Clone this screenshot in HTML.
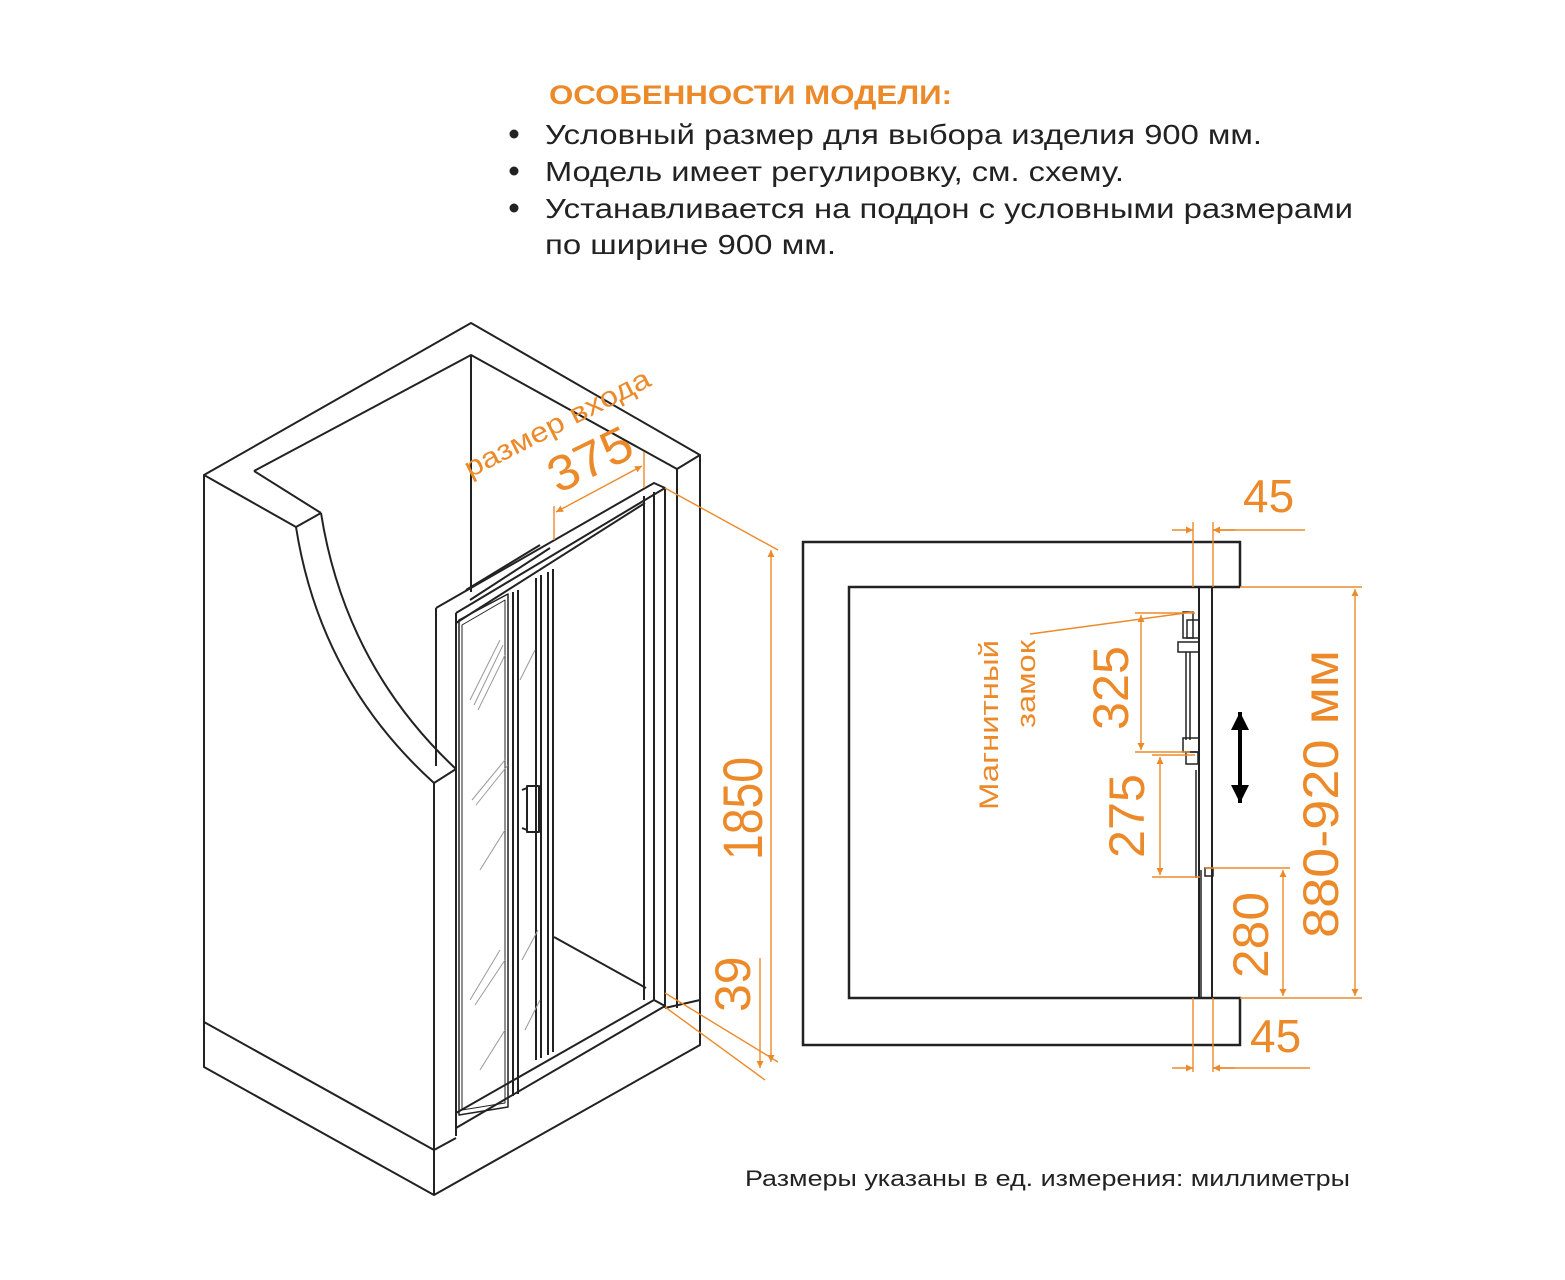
<!DOCTYPE html>
<html><head><meta charset="utf-8"><style>
html,body{margin:0;padding:0;background:#fff;}
svg{display:block;}
text{font-family:"Liberation Sans","DejaVu Sans",sans-serif;}
</style></head><body>
<svg width="1565" height="1280" viewBox="0 0 1565 1280" xmlns="http://www.w3.org/2000/svg">
<defs>
<marker id="a" viewBox="0 0 10 10" refX="10" refY="5" markerWidth="7" markerHeight="10" orient="auto-start-reverse" markerUnits="userSpaceOnUse"><path d="M0,0 L10,5 L0,10 Z" fill="#ec8a2a"/></marker>
<marker id="b" viewBox="0 0 10 10" refX="10" refY="5" markerWidth="20" markerHeight="18" orient="auto-start-reverse" markerUnits="userSpaceOnUse"><path d="M0,0 L10,5 L0,10 Z" fill="#000"/></marker>
</defs>

<!-- header -->
<text x="549" y="104" font-size="27" font-weight="bold" fill="#ec8a2a" textLength="403" lengthAdjust="spacingAndGlyphs">ОСОБЕННОСТИ МОДЕЛИ:</text>
<g font-size="28" fill="#222">
<circle cx="514" cy="134" r="4.5" fill="#222"/><text x="545" y="144" textLength="717" lengthAdjust="spacingAndGlyphs">Условный размер для выбора изделия 900 мм.</text>
<circle cx="514" cy="171" r="4.5" fill="#222"/><text x="545" y="181" textLength="579" lengthAdjust="spacingAndGlyphs">Модель имеет регулировку, см. схему.</text>
<circle cx="514" cy="208" r="4.5" fill="#222"/><text x="545" y="218" textLength="808" lengthAdjust="spacingAndGlyphs">Устанавливается на поддон с условными размерами</text>
<text x="545" y="254" textLength="291" lengthAdjust="spacingAndGlyphs">по ширине 900 мм.</text>
</g>

<!-- LEFT isometric -->
<g fill="none" stroke="#222" stroke-width="2" stroke-linejoin="round">
<path d="M204,475 L471,323 L700,455 L700,1045 L434,1195 L204,1067 Z"/>
<path d="M204,1022 L434,1150 L434,1195"/>
<path d="M434,1150 L456,1138"/>
<path d="M665,1008 L700,1000"/>
<path d="M254,471 L471,355 L677,469 L700,455"/>
<path d="M471,355 L471,592"/>
<path d="M677,469 L677,1008"/>
<path d="M204,475 L296,527 L321,513"/>
<path d="M254,471 L321,513"/>
<path d="M296,527 Q320,680 434,783"/>
<path d="M321,513 Q345,665 456,769"/>
<path d="M434,783 L456,769"/>
<path d="M434,783 L434,1150"/>
<path d="M436,608 L436,766"/>
<path d="M456,613 L456,1136"/>
<path d="M436,608 L654,483 L665,488 L456,613"/>
<path d="M456,623 L645,503"/>
<path d="M456,1113 L654,1000 L665,1006 L456,1128"/>
<path d="M644,496 L644,1000 M654,492 L654,1000 M665,488 L665,1008"/>
<path d="M459,620 L508,594 L508,1107 L459,1115 Z" stroke-width="1.5"/>
<path d="M462,625 L505,600 L505,1103 L462,1110 Z" stroke-width="1"/>
<path d="M513,592 L513,1096 M518,590 L518,1094"/>
<path d="M536,578 L536,1060 M541,575 L541,1058 M548,572 L548,1055 M553,569 L553,1052"/>
<path d="M554,937 L646,988"/>
<path d="M466,590 L540,545 M470,600 L550,548"/>
<rect x="527" y="786" width="12" height="46" stroke-width="2"/>
<path d="M522,790 L527,788 M522,828 L527,830"/>
</g>
<g stroke="#999" stroke-width="1">
<path d="M470,700 L500,640 M474,705 L503,645 M478,710 L505,655 M472,800 L505,760 M476,805 L508,765 M480,870 L505,830 M470,1000 L500,950 M475,1005 L505,960 M480,1070 L505,1030 M520,680 L535,650 M522,960 L538,930 M525,1030 L540,1000"/>
</g>

<!-- left dims -->
<g stroke="#ec8a2a" stroke-width="1.4" fill="none">
<path d="M554,540 L554,506 M644,488 L644,452"/>
<path d="M556,512 L642,466" marker-start="url(#a)" marker-end="url(#a)"/>
<path d="M665,488 L778,550"/>
<path d="M665,993 L778,1062"/>
<path d="M665,1007 L765,1080"/>
<path d="M771,550 L771,1062" marker-start="url(#a)" marker-end="url(#a)"/>
<path d="M760,958 L760,1068" marker-end="url(#a)"/>
</g>
<g fill="#ec8a2a">
<text transform="translate(558,494) rotate(-26)" font-size="50" textLength="88" lengthAdjust="spacingAndGlyphs">375</text>
<text transform="translate(470,478) rotate(-27)" font-size="28" textLength="205" lengthAdjust="spacingAndGlyphs">размер входа</text>
<text transform="translate(762,860) rotate(-90)" font-size="56" textLength="103" lengthAdjust="spacingAndGlyphs">1850</text>
<text transform="translate(750,1012) rotate(-90)" font-size="50">39</text>
</g>

<!-- RIGHT plan -->
<g fill="none" stroke="#222" stroke-width="2.5">
<path d="M1240,587 L1240,542 L803,542 L803,1045 L1240,1045 L1240,998 L849,998 L849,587 L1240,587"/>
<path d="M1199,587 L1199,998 M1212,587 L1212,998" stroke-width="2"/>
<g stroke-width="1.5">
<rect x="1183" y="612" width="10" height="26"/><rect x="1187" y="620" width="12" height="18"/>
<rect x="1178" y="642" width="21" height="10"/>
<path d="M1186,652 L1186,740 M1190,652 L1190,740"/>
<rect x="1183" y="738" width="16" height="14"/>
<rect x="1186" y="752" width="12" height="12"/>
<path d="M1196,770 L1196,878 M1201,870 L1201,998"/>
<rect x="1205" y="868" width="8" height="8"/>
</g>
</g>
<path d="M1240,712 L1240,803" stroke="#000" stroke-width="4" marker-start="url(#b)" marker-end="url(#b)"/>
<g stroke="#ec8a2a" stroke-width="1.4" fill="none">
<path d="M1193,522 L1193,587 M1213,522 L1213,587"/>
<path d="M1172,530 L1193,530" marker-end="url(#a)"/><path d="M1235,530 L1213,530" marker-end="url(#a)"/><path d="M1213,530 L1305,530"/>
<path d="M1193,998 L1193,1072 M1213,998 L1213,1072"/>
<path d="M1172,1068 L1193,1068" marker-end="url(#a)"/><path d="M1235,1068 L1213,1068" marker-end="url(#a)"/><path d="M1213,1068 L1310,1068"/>
<path d="M1240,587 L1362,587 M1240,998 L1362,998"/>
<path d="M1355,589 L1355,996" marker-start="url(#a)" marker-end="url(#a)"/>
<path d="M1205,868 L1290,868"/>
<path d="M1283,870 L1283,996" marker-start="url(#a)" marker-end="url(#a)"/>
<path d="M1135,613 L1195,613 M1135,752 L1190,752"/>
<path d="M1141,615 L1141,750" marker-start="url(#a)" marker-end="url(#a)"/>
<path d="M1152,755 L1195,755 M1152,877 L1200,877"/>
<path d="M1160,757 L1160,875" marker-start="url(#a)" marker-end="url(#a)"/>
<path d="M1030,634 L1193,612"/>
</g>
<g fill="#ec8a2a">
<text x="1243" y="512" font-size="46">45</text>
<text x="1250" y="1052" font-size="46">45</text>
<text transform="translate(1338,938) rotate(-90)" font-size="50" textLength="288" lengthAdjust="spacingAndGlyphs">880-920 мм</text>
<text transform="translate(1268,978) rotate(-90)" font-size="50" textLength="86" lengthAdjust="spacingAndGlyphs">280</text>
<text transform="translate(1128,730) rotate(-90)" font-size="50" textLength="84" lengthAdjust="spacingAndGlyphs">325</text>
<text transform="translate(1144,858) rotate(-90)" font-size="50" textLength="84" lengthAdjust="spacingAndGlyphs">275</text>
<text transform="translate(998,810) rotate(-90)" font-size="27" textLength="170" lengthAdjust="spacingAndGlyphs">Магнитный</text>
<text transform="translate(1035,728) rotate(-90)" font-size="27" textLength="88" lengthAdjust="spacingAndGlyphs">замок</text>
</g>

<text x="745" y="1186" font-size="22" fill="#222" textLength="605" lengthAdjust="spacingAndGlyphs">Размеры указаны в ед. измерения: миллиметры</text>
</svg>
</body></html>
